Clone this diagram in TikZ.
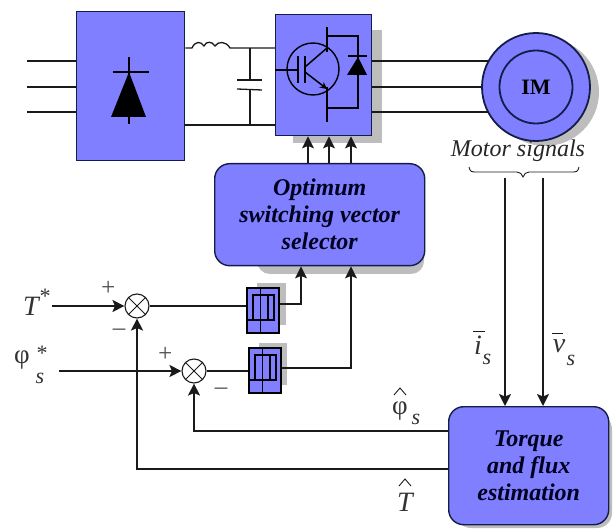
\documentclass[tikz,border=0pt]{standalone}
\usepackage{fontspec}
\setmainfont{Liberation Serif}
\usetikzlibrary{arrows.meta,calc}
\definecolor{boxblue}{HTML}{7F7FFF}
\definecolor{boxedge}{HTML}{141C48}
\definecolor{shadowgrey}{HTML}{BDBDBD}
\definecolor{wire}{HTML}{1A1A1A}
\tikzset{
  wireline/.style={draw=wire,line width=1.3pt},
  arr/.style={wireline,-{Stealth[length=12pt,width=12pt,inset=2.5pt]}},
  plainbox/.style={draw=boxedge,fill=boxblue,line width=1.4pt,inner sep=0pt,anchor=north west},
  roundbox/.style={plainbox,rounded corners=15pt,align=center,font=\bfseries\itshape\fontsize{24}{27}\selectfont,text=black!88!blue},
  hystbox/.style={draw=black,fill=boxblue,line width=2.4pt,inner sep=0pt,anchor=north west,minimum width=32pt,minimum height=45pt},
  sumnode/.style={circle,draw=wire,fill=white,line width=1.1pt,minimum size=24pt,inner sep=0pt},
  motorring/.style={circle,draw=boxedge,fill=boxblue,line width=1.8pt,inner sep=0pt},
  glyph/.style={draw=black,line width=1.8pt},
  lab/.style={font=\itshape\fontsize{28}{28}\selectfont,text=black!80,inner sep=0pt},
  phil/.style={font=\fontsize{27}{27}\selectfont,text=black!80,inner sep=0pt},
  sublab/.style={font=\itshape\fontsize{22}{22}\selectfont,text=black!80,inner sep=0pt},
  sign/.style={font=\itshape\fontsize{25}{25}\selectfont,text=black!70,inner sep=0pt},
}
\begin{document}
\begin{tikzpicture}[x=1pt,y=-1pt]
\useasboundingbox (0,0) rectangle (613,529);
% shadows
\fill[shadowgrey] (293,30) rectangle (382,143);
\fill[shadowgrey] (545,92) circle (54);
\fill[shadowgrey,rounded corners=13pt] (257,180) rectangle (424,274);
\fill[shadowgrey,rounded corners=15pt] (456,414) rectangle (612,528);
\fill[shadowgrey] (257,283) rectangle (286,325);
\fill[shadowgrey] (259,343) rectangle (287,385);
% boxes
\node[plainbox,minimum width=108pt,minimum height=149pt] (rect) at (76,11) {};
\node[plainbox,minimum width=96pt,minimum height=121pt] (inv) at (275,14) {};
\node[roundbox,minimum width=210pt,minimum height=102pt] (sel) at (214,163) {Optimum\\switching vector\\selector};
\node[roundbox,minimum width=160pt,minimum height=118pt] (est) at (448,406) {Torque\\and flux\\estimation};
\node[hystbox] (hyA) at (246,287) {};
\node[hystbox] (hyB) at (248,347) {};
\node[sumnode] (sumA) at (137,306) {};
\node[sumnode] (sumB) at (194,371) {};
% motor
\node[motorring,minimum size=108pt] (motor) at (536,87) {};
\node[motorring,minimum size=73pt,font=\bfseries\fontsize{22}{22}\selectfont] (im) at (536,87) {IM};
% named free ends
\coordinate (inA) at (27,61); \coordinate (inB) at (27,87); \coordinate (inC) at (27,112);
\coordinate (indL) at (192,48); \coordinate (indR) at (230,48);
\coordinate (capT) at (250,80); \coordinate (capB) at (250,90);
\coordinate (tstar) at (52,306); \coordinate (pstar) at (59,371);
\coordinate (brA) at (505,178); \coordinate (brB) at (543,178);
% three-phase input
\foreach \c in {inA,inB,inC} \draw[wireline] (\c) -- (\c -| rect.west);
% motor feed
\draw[wireline] (inv.east |- inA) -- (motor.151 |- inA);
\draw[wireline] (inv.east |- inB) -- (motor.west);
\draw[wireline] (inv.east |- inC) -- (motor.209 |- inC);
% DC link
\draw[wireline] (rect.east |- indL) -- (indL)
  .. controls (195,41) and (201,41) .. (204,46)
  .. controls (206,41) and (212,41) .. (215,46)
  .. controls (218,41) and (226,41) .. (indR) -- (indR -| inv.west);
\draw[wireline] (rect.east |- 0,125) -- (inv.west |- 0,125);
\draw[wireline] (capT |- indR) -- (capT);
\draw[wireline] (capB) -- (capB |- 0,125);
\draw[wireline] (237,80) -- (262,80);
\draw[wireline] (237,89) -- (262,90);
% rectifier diode
\draw[black,line width=2.2pt] (129,57) -- (129,124);
\draw[black,line width=2.4pt] (113,72) -- (149,72);
\fill[black] (129,72) -- (146,117) -- (111,117) -- cycle;
% transistor
\draw[black,line width=1.4pt] (313,69) circle (26);
\draw[black,line width=1.8pt] (275,70) -- (298,70);
\draw[black,line width=1.8pt] (298,56) -- (298,83);
\draw[black,line width=1.8pt] (305,56) -- (305,83);
\draw[black,line width=1.5pt] (305,67) -- (327,48);
\draw[black,line width=1.5pt,-{Stealth[length=7pt,width=7pt]}] (305,72) -- (327,89);
\draw[black,line width=2.2pt] (327,27) -- (327,52);
\draw[black,line width=2.2pt] (327,87) -- (327,122);
\draw[black,line width=2pt] (327,36) -- (358,36) -- (358,108) -- (327,108);
\draw[black,line width=2.2pt] (348,56) -- (367,56);
\fill[black] (358,57) -- (367,75) -- (347,75) -- cycle;
% gate arrows
\foreach \x in {308,329,351} {\coordinate (g) at (\x,0); \draw[arr] (g |- sel.north) -- (g |- inv.south);}
% hysteresis glyphs
\foreach \h in {hyA,hyB} {
 \begin{scope}[shift={(\h.north west)}]
  \draw[glyph] (1,33) -- (28,33) -- (28,8) -- (7,8) -- (7,33);
  \draw[glyph] (14.5,0) -- (14.5,45);
  \draw[glyph] (22,8) -- (22,33);
 \end{scope}}
% control loop
\draw[arr] (tstar) -- (sumA);
\draw[arr] (pstar) -- (sumB);
\draw[wireline] (sumA) -- (sumA -| hyA.west);
\draw[wireline] (sumB) -- (hyB.west |- sumB);
\draw[arr] (hyA.east |- 0,304) -| (301,0 |- sel.south);
\draw[arr] (hyB.east |- 0,368) -| (351,0 |- sel.south);
\draw[arr] (est.west |- 0,431) -| (sumB);
\draw[arr] (est.west |- 0,469) -| (sumA);
% sum crosses
\foreach \s in {sumA,sumB} {
 \draw[wire,line width=.8pt] (\s.north west) -- (\s.south east);
 \draw[wire,line width=.8pt] (\s.north east) -- (\s.south west);
}
% motor signals
\draw[arr] (brA) -- (brA |- est.north);
\draw[arr] (brB) -- (brB |- est.north);
\node[font=\itshape\fontsize{24}{24}\selectfont,text=black!85,inner sep=0pt] (ms) at (518,151) {Motor signals};
\draw[wire,line width=.9pt] (469,167) .. controls (470,172) and (472,172) .. (476,172)
  -- (517,172) .. controls (520,172) and (522,174) .. (523,177)
  .. controls (524,174) and (526,172) .. (529,172) -- (572,172)
  .. controls (576,172) and (578,172) .. (579,167);
% labels
\node[lab] (ltstar) at (31,306) {T};
\node[sublab] (lts) at (44,296) {*};
\node[phil] (lphi) at (22,360) {φ};
\node[sublab] (lphis) at (41,353) {*};
\node[sublab] (lphisub) at (40,378) {s};
\node[sign] (p1) at (108,288) {+};
\node[sign] (p2) at (165,354) {+};
\node[sign] (m1) at (119,332) {–};
\node[sign] (m2) at (221,391) {–};
\node[lab] (li) at (478,345) {i};
\draw[wire,line width=1pt] (473,331) -- (485,331);
\node[sublab] (lis) at (487,359) {s};
\node[lab] (lv) at (559,346) {v};
\draw[wire,line width=1pt] (552,333) -- (563,333);
\node[sublab] (lvs) at (571,360) {s};
\node[phil] (lph) at (400,411) {φ};
\draw[wire,line width=.9pt] (394,395) -- (400,388) -- (406,395);
\node[sublab] (lphs) at (416,419) {s};
\node[lab] (lth) at (405,502) {T};
\draw[wire,line width=.9pt] (399,486) -- (405,479) -- (411,486);
\end{tikzpicture}
\end{document}
